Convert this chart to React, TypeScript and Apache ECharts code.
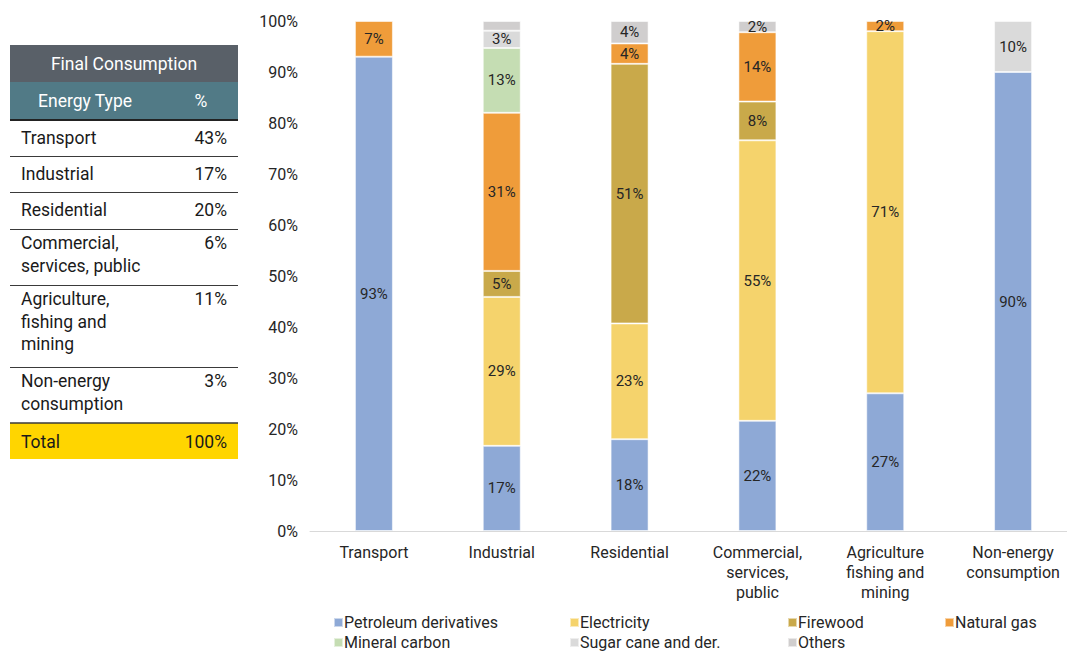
import React, { useEffect, useRef } from "react";
import * as echarts from "echarts";

const categories = [
  "Transport",
  "Industrial",
  "Residential",
  "Commercial,\nservices,\npublic",
  "Agriculture\nfishing and\nmining",
  "Non-energy\nconsumption",
];
const petroleum = [93, 16.7, 18, 21.6, 27, 90];
const electricity = [0, 29.2, 22.7, 55.0, 71, 0];
const firewood = [0, 5.1, 50.9, 7.6, 0, 0];
const naturalGas = [7, 31, 4, 13.6, 2, 0];
const mineralCarbon = [0, 12.7, 0, 0, 0, 0];
const sugarCane = [0, 3.4, 0, 0, 0, 10];
const others = [0, 1.9, 4.4, 2.2, 0, 0];

const seriesNames = [
  "Petroleum derivatives",
  "Electricity",
  "Firewood",
  "Natural gas",
  "Mineral carbon",
  "Sugar cane and der.",
  "Others",
];
const seriesValues = [petroleum, electricity, firewood, naturalGas, mineralCarbon, sugarCane, others];
const seriesColors = ["#8EA9D6", "#F5D36C", "#C9A94A", "#EF9C3A", "#C5DDB3", "#DADADA", "#D0CECE"];

const yTicks = [0, 10, 20, 30, 40, 50, 60, 70, 80, 90, 100];

const tableTitle = "Final Consumption";
const tableHeaders = ["Energy Type", "%"];
const tableSectors = [
  "Transport",
  "Industrial",
  "Residential",
  "Commercial,\nservices, public",
  "Agriculture,\nfishing and\nmining",
  "Non-energy\nconsumption",
];
const tableShares = ["43%", "17%", "20%", "6%", "11%", "3%"];
const tableTotal = ["Total", "100%"];

const FONT = "Roboto, 'Noto Sans', sans-serif";

function buildTable() {
  const els: any[] = [];
  const x0 = 10;
  const w = 228;
  const rowHeights = [36, 36, 37, 56, 82, 55];
  const tf = `17.5px ${FONT}`;
  els.push({ type: "rect", shape: { x: x0, y: 45, width: w, height: 37 }, style: { fill: "#596068" } });
  els.push({
    type: "text",
    x: x0 + w / 2,
    y: 64,
    style: { text: tableTitle, fill: "#FFFFFF", font: tf, align: "center", verticalAlign: "middle" },
  });
  els.push({ type: "rect", shape: { x: x0, y: 82, width: w, height: 38 }, style: { fill: "#517A86" } });
  els.push({
    type: "text",
    x: 85,
    y: 101,
    style: { text: tableHeaders[0], fill: "#FFFFFF", font: tf, align: "center", verticalAlign: "middle" },
  });
  els.push({
    type: "text",
    x: 201,
    y: 101,
    style: { text: tableHeaders[1], fill: "#FFFFFF", font: tf, align: "center", verticalAlign: "middle" },
  });
  els.push({ type: "line", shape: { x1: x0, y1: 120, x2: x0 + w, y2: 120 }, style: { stroke: "#222222", lineWidth: 2 } });
  let y = 121;
  tableSectors.forEach((s, i) => {
    const lines = s.split("\n").length;
    const ty = lines === 1 ? y + 6 : y + 2;
    els.push({
      type: "text",
      x: 21,
      y: ty,
      style: { text: s, fill: "#1A1A1A", font: tf, lineHeight: 22.5, align: "left", verticalAlign: "top" },
    });
    els.push({
      type: "text",
      x: 227,
      y: ty,
      style: { text: tableShares[i], fill: "#1A1A1A", font: tf, lineHeight: 22.5, align: "right", verticalAlign: "top" },
    });
    y += rowHeights[i];
    if (i < tableSectors.length - 1) {
      els.push({
        type: "line",
        shape: { x1: x0, y1: y - 0.5, x2: x0 + w, y2: y - 0.5 },
        style: { stroke: "#3A3A3A", lineWidth: 1 },
      });
    }
  });
  els.push({ type: "rect", shape: { x: x0, y: y, width: w, height: 36 }, style: { fill: "#FFD500" } });
  els.push({ type: "line", shape: { x1: x0, y1: y, x2: x0 + w, y2: y }, style: { stroke: "#3A3A3A", lineWidth: 1.5 } });
  els.push({
    type: "text",
    x: 21,
    y: y + 19,
    style: { text: tableTotal[0], fill: "#1A1A1A", font: tf, align: "left", verticalAlign: "middle" },
  });
  els.push({
    type: "text",
    x: 227,
    y: y + 19,
    style: { text: tableTotal[1], fill: "#1A1A1A", font: tf, align: "right", verticalAlign: "middle" },
  });
  return els;
}

export default function App() {
  const ref = useRef<HTMLDivElement>(null);
  useEffect(() => {
    document.body.style.margin = "0";
    if (!ref.current) return;
    const chart = echarts.init(ref.current, undefined, { renderer: "svg" });
    const legendCols = [
      { left: 333, names: [seriesNames[0], seriesNames[4]] },
      { left: 569, names: [seriesNames[1], seriesNames[5]] },
      { left: 787, names: [seriesNames[2], seriesNames[6]] },
      { left: 944, names: [seriesNames[3]] },
    ];
    const option: any = {
      animation: false,
      textStyle: { fontFamily: FONT },
      grid: { left: 310, top: 21, width: 767, height: 510, containLabel: false },
      legend: legendCols.map((c) => ({
        orient: "vertical",
        left: c.left,
        top: 614,
        itemWidth: 9,
        itemHeight: 9,
        itemGap: 3,
        padding: 0,
        icon: "rect",
        selectedMode: false,
        data: c.names,
        textStyle: { fontSize: 16, color: "#262626", padding: [0, 0, 0, -4], fontFamily: FONT, lineHeight: 17 },
      })),
      xAxis: {
        type: "category",
        data: categories,
        axisLine: { show: true, lineStyle: { color: "#D9D9D9", width: 1 } },
        axisTick: { show: false },
        axisLabel: { color: "#262626", fontSize: 16, lineHeight: 20, margin: 11, interval: 0 },
      },
      yAxis: {
        type: "value",
        min: 0,
        max: 100,
        interval: 10,
        axisLine: { show: false },
        axisTick: { show: false },
        splitLine: { show: false },
        axisLabel: {
          color: "#262626",
          fontSize: 16,
          margin: 12,
          formatter: (v: number) => (yTicks.includes(v) ? `${v}%` : ""),
        },
      },
      series: seriesNames.map((name, i) => ({
        name,
        type: "bar",
        stack: "total",
        barWidth: 38,
        data: seriesValues[i].map((v) => (v > 0 ? v : null)),
        itemStyle: { color: seriesColors[i], borderColor: "rgba(255,255,255,0.55)", borderWidth: 1 },
        label: {
          show: true,
          position: "inside",
          color: "#262626",
          fontSize: 15,
          formatter: (p: any) => (p.value != null && p.value >= 2 ? `${Math.round(p.value)}%` : ""),
        },
      })),
      graphic: buildTable(),
    };
    chart.setOption(option);
    return () => chart.dispose();
  }, []);
  return (
    <div style={{ position: "absolute", left: 0, top: 0, width: 1067, height: 652, overflow: "hidden" }}>
      <div ref={ref} style={{ width: 1090, height: 652 }} />
    </div>
  );
}
